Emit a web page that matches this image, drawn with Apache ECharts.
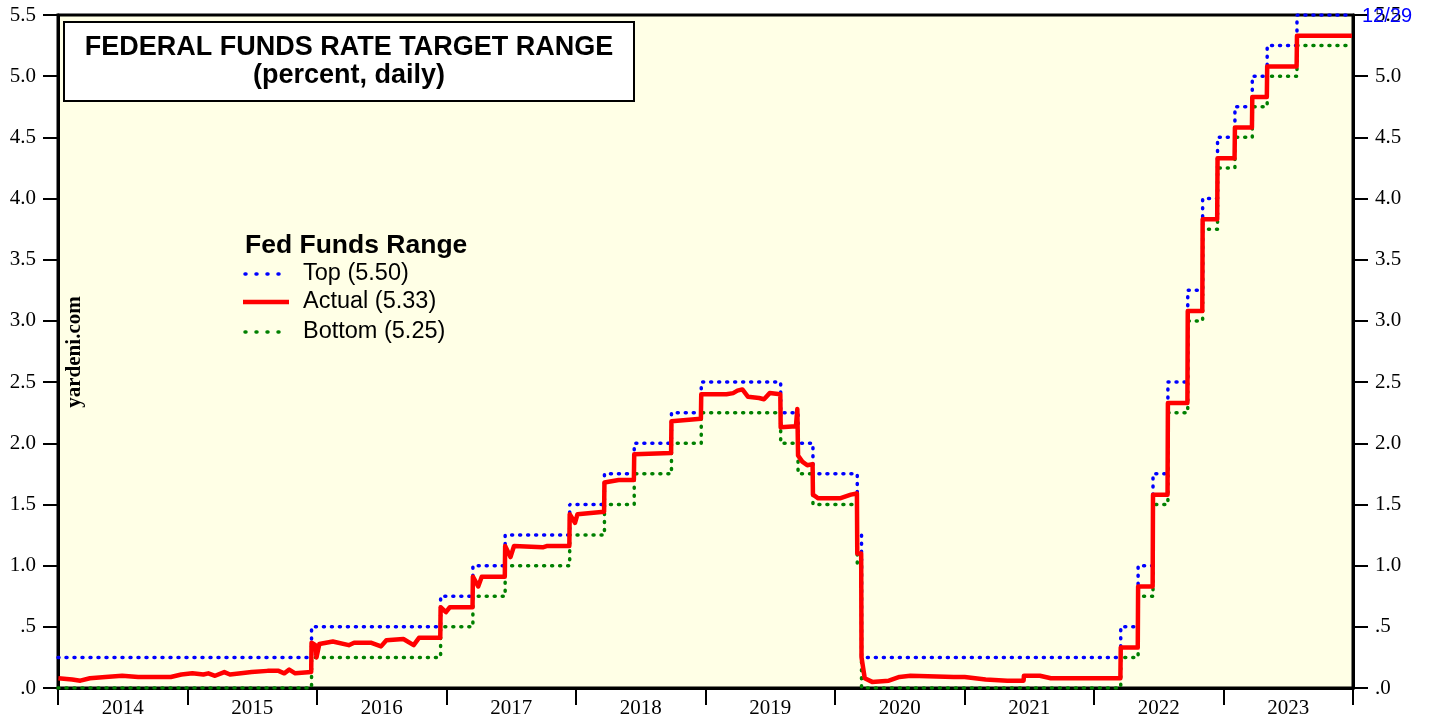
<!DOCTYPE html>
<html>
<head>
<meta charset="utf-8">
<script src="https://cdn.jsdelivr.net/npm/echarts@6/dist/echarts.min.js"></script>
<style>
html,body{margin:0;padding:0;background:#fff;}
#chart{width:1429px;height:721px;}
</style>
</head>
<body>
<div id="chart"></div>
<script>
// Target range change dates and levels
const changeDates = ['2014-01-01','2015-12-17','2016-12-15','2017-03-16','2017-06-15','2017-12-14','2018-03-22','2018-06-14','2018-09-27','2018-12-20','2019-08-01','2019-09-19','2019-10-31','2020-03-04','2020-03-16','2022-03-17','2022-05-05','2022-06-16','2022-07-28','2022-09-22','2022-11-03','2022-12-15','2023-02-02','2023-03-23','2023-05-04','2023-07-27','2023-12-29'];
const topValues = [0.25,0.5,0.75,1.0,1.25,1.5,1.75,2.0,2.25,2.5,2.25,2.0,1.75,1.25,0.25,0.5,1.0,1.75,2.5,3.25,4.0,4.5,4.75,5.0,5.25,5.5,5.5];
const bottomValues = [0,0.25,0.5,0.75,1.0,1.25,1.5,1.75,2.0,2.25,2.0,1.75,1.5,1.0,0,0.25,0.75,1.5,2.25,3.0,3.75,4.25,4.5,4.75,5.0,5.25,5.25];

// Actual (effective) rate readings
const actualDates = ['2014-01-02','2014-02-10','2014-03-05','2014-04-01','2014-05-15','2014-07-01','2014-08-15','2014-10-01','2014-11-15','2014-12-15',
'2015-01-15','2015-02-15','2015-03-01','2015-03-20','2015-04-15','2015-05-01','2015-06-01','2015-07-01','2015-08-15','2015-09-15','2015-10-01','2015-10-15','2015-11-01','2015-12-16','2015-12-17','2015-12-28','2015-12-31','2016-01-08',
'2016-02-15','2016-03-31','2016-04-15','2016-06-01','2016-06-30','2016-07-15','2016-09-01','2016-09-30','2016-10-15','2016-12-14','2016-12-15','2016-12-30','2017-01-10',
'2017-03-15','2017-03-16','2017-03-31','2017-04-10','2017-06-14','2017-06-15','2017-06-30','2017-07-10','2017-09-29','2017-10-10','2017-12-13','2017-12-14','2017-12-29','2018-01-05',
'2018-03-21','2018-03-22','2018-05-01','2018-06-13','2018-06-14','2018-09-26','2018-09-27','2018-12-19','2018-12-20',
'2019-03-01','2019-03-20','2019-04-01','2019-04-15','2019-05-01','2019-06-01','2019-06-15','2019-07-01','2019-07-31','2019-08-01','2019-09-13','2019-09-17','2019-09-19','2019-10-01','2019-10-15','2019-10-30','2019-10-31','2019-11-15',
'2020-01-15','2020-02-15','2020-03-03','2020-03-04','2020-03-15','2020-03-16','2020-03-25','2020-04-15','2020-06-01','2020-07-01','2020-08-01','2020-12-01',
'2021-01-01','2021-03-01','2021-05-01','2021-06-16','2021-06-17','2021-08-01','2021-09-01',
'2022-03-16','2022-03-17','2022-05-04','2022-05-05','2022-06-15','2022-06-16','2022-07-27','2022-07-28','2022-09-21','2022-09-22','2022-11-02','2022-11-03','2022-12-14','2022-12-15',
'2023-02-01','2023-02-02','2023-03-22','2023-03-23','2023-05-03','2023-05-04','2023-07-26','2023-07-27','2023-12-29'];
const actualValues = [0.08,0.07,0.06,0.08,0.09,0.10,0.09,0.09,0.09,0.11,
0.12,0.11,0.12,0.10,0.13,0.11,0.12,0.13,0.14,0.14,0.12,0.15,0.12,0.13,0.37,0.35,0.25,0.36,
0.38,0.35,0.37,0.37,0.34,0.39,0.40,0.35,0.41,0.41,0.66,0.62,0.66,
0.66,0.91,0.83,0.91,0.91,1.16,1.07,1.16,1.15,1.16,1.16,1.42,1.35,1.42,
1.44,1.68,1.70,1.70,1.91,1.92,2.18,2.20,2.40,
2.40,2.41,2.43,2.44,2.38,2.37,2.36,2.41,2.40,2.13,2.14,2.28,1.90,1.85,1.82,1.83,1.58,1.55,
1.55,1.58,1.59,1.10,1.10,0.25,0.08,0.05,0.06,0.09,0.10,0.09,
0.09,0.07,0.06,0.06,0.10,0.10,0.08,
0.08,0.33,0.33,0.83,0.83,1.58,1.58,2.33,2.33,3.08,3.08,3.83,3.83,4.33,
4.33,4.58,4.58,4.83,4.83,5.08,5.08,5.33,5.33];

const years = ['2014','2015','2016','2017','2018','2019','2020','2021','2022','2023'];
const yTicks = [0,0.5,1,1.5,2,2.5,3,3.5,4,4.5,5,5.5];
const legendLabels = ['Top (5.50)','Actual (5.33)','Bottom (5.25)'];

const zip = (d, v) => d.map((x, i) => [x, v[i]]);
const fmtY = v => v === 0 ? '.0' : (v < 1 ? '.5' : v.toFixed(1));

const chart = echarts.init(document.getElementById('chart'));
const serif = 'Liberation Serif';
const sans = 'Liberation Sans';

const yAxisBase = {
  type: 'value', min: 0, max: 5.5, interval: 0.5,
  axisLine: {show: true, lineStyle: {color: '#000', width: 3}},
  axisTick: {show: true, inside: false, length: 15, lineStyle: {color: '#000', width: 2}},
  axisLabel: {formatter: fmtY, fontFamily: serif, fontSize: 21, color: '#000', margin: 22},
  splitLine: {show: false}
};

chart.setOption({
  animation: false,
  backgroundColor: '#fff',
  grid: {left: 58, right: 76, top: 15, bottom: 33, show: true, backgroundColor: '#FFFFE6', borderColor: '#000', borderWidth: 3},
  xAxis: [
    {type: 'time', min: '2014-01-01', max: '2024-01-01', show: false},
    {type: 'category', data: years, position: 'bottom', boundaryGap: true,
     axisLine: {show: true, lineStyle: {color: '#000', width: 3}},
     axisTick: {show: true, length: 17, lineStyle: {color: '#000', width: 2}},
     axisLabel: {fontFamily: serif, fontSize: 21, color: '#000', margin: 10},
     splitLine: {show: false}}
  ],
  yAxis: [
    Object.assign({}, yAxisBase, {position: 'left'}),
    Object.assign({}, yAxisBase, {position: 'right'})
  ],
  series: [
    {name: 'Top', type: 'line', xAxisIndex: 0, yAxisIndex: 0, step: 'end', symbol: 'none',
     data: zip(changeDates, topValues),
     lineStyle: {color: '#0000FF', width: 3.5, type: [1, 7], cap: 'round'}, z: 3},
    {name: 'Bottom', type: 'line', xAxisIndex: 0, yAxisIndex: 0, step: 'end', symbol: 'none',
     data: zip(changeDates, bottomValues),
     lineStyle: {color: '#008000', width: 3.5, type: [1, 7], cap: 'round'}, z: 3},
    {name: 'Actual', type: 'line', xAxisIndex: 0, yAxisIndex: 0, symbol: 'none',
     data: zip(actualDates, actualValues),
     lineStyle: {color: '#FF0000', width: 4.5, join: 'round'}, z: 4}
  ],
  graphic: [
    {type: 'rect', shape: {x: 64, y: 22, width: 570, height: 79}, style: {fill: '#fff', stroke: '#000', lineWidth: 2}, z: 10},
    {type: 'text', x: 349, y: 48, style: {text: 'FEDERAL FUNDS RATE TARGET RANGE', font: 'bold 27px ' + sans, fill: '#000', textAlign: 'center', textVerticalAlign: 'middle'}, z: 11},
    {type: 'text', x: 349, y: 76, style: {text: '(percent, daily)', font: 'bold 27px ' + sans, fill: '#000', textAlign: 'center', textVerticalAlign: 'middle'}, z: 11},
    {type: 'text', x: 245, y: 246, style: {text: 'Fed Funds Range', font: 'bold 26.5px ' + sans, fill: '#000', textAlign: 'left', textVerticalAlign: 'middle'}, z: 11},
    {type: 'line', shape: {x1: 245, y1: 274, x2: 285, y2: 274}, style: {stroke: '#0000FF', lineWidth: 3.5, lineDash: [1, 10], lineCap: 'round'}, z: 11},
    {type: 'line', shape: {x1: 243, y1: 302, x2: 289, y2: 302}, style: {stroke: '#FF0000', lineWidth: 4.5}, z: 11},
    {type: 'line', shape: {x1: 245, y1: 332, x2: 285, y2: 332}, style: {stroke: '#008000', lineWidth: 3.5, lineDash: [1, 10], lineCap: 'round'}, z: 11},
    {type: 'text', x: 303, y: 274, style: {text: legendLabels[0], font: '23.5px ' + sans, fill: '#000', textAlign: 'left', textVerticalAlign: 'middle'}, z: 11},
    {type: 'text', x: 303, y: 302, style: {text: legendLabels[1], font: '23.5px ' + sans, fill: '#000', textAlign: 'left', textVerticalAlign: 'middle'}, z: 11},
    {type: 'text', x: 303, y: 332, style: {text: legendLabels[2], font: '23.5px ' + sans, fill: '#000', textAlign: 'left', textVerticalAlign: 'middle'}, z: 11},
    {type: 'text', x: 75, y: 352, rotation: Math.PI / 2, style: {text: 'yardeni.com', font: 'bold 21px ' + serif, fill: '#000', textAlign: 'center', textVerticalAlign: 'middle'}, z: 11},
    {type: 'text', x: 1362, y: 16, style: {text: '12/29', font: '20px ' + sans, fill: '#0000FF', textAlign: 'left', textVerticalAlign: 'middle'}, z: 11}
  ]
});
</script>
</body>
</html>
